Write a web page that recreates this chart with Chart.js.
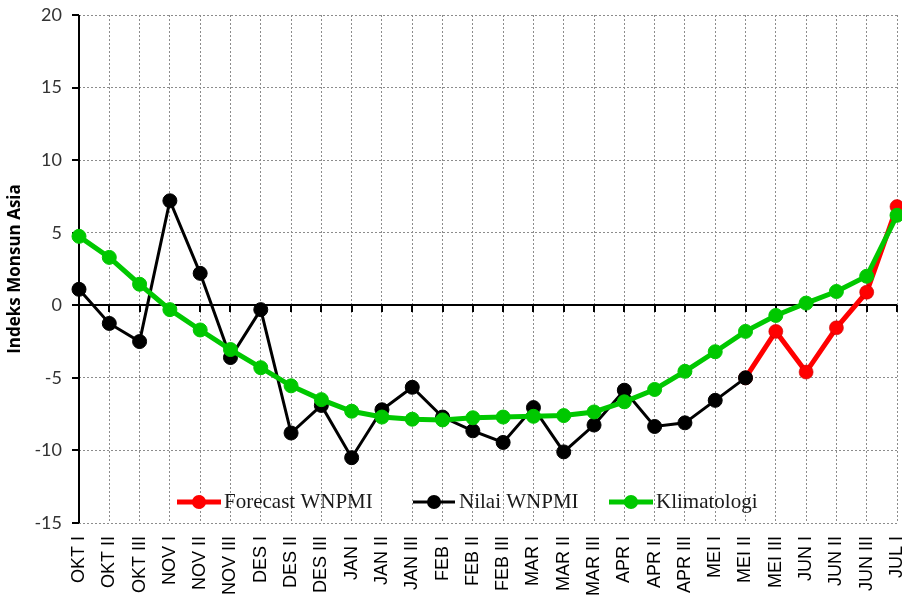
<!DOCTYPE html>
<html>
<head>
<meta charset="utf-8">
<script src="https://cdn.jsdelivr.net/npm/chart.js@4/dist/chart.umd.min.js"></script>
<style>
  html, body { margin: 0; padding: 0; background: #fff; }
  #wrap { width: 902px; height: 606px; }
</style>
</head>
<body>
<div id="wrap"><canvas id="c" width="902" height="606"></canvas></div>
<script>
// Dasarian periods, October to July
const categories = [
  'OKT I', 'OKT II', 'OKT III', 'NOV I', 'NOV II', 'NOV III',
  'DES I', 'DES II', 'DES III', 'JAN I', 'JAN II', 'JAN III',
  'FEB I', 'FEB II', 'FEB III', 'MAR I', 'MAR II', 'MAR III',
  'APR I', 'APR II', 'APR III', 'MEI I', 'MEI II', 'MEI III',
  'JUN I', 'JUN II', 'JUN III', 'JUL I'
];

// Forecast WNPMI (starts from the last observed value)
const forecastWNPMI = [
  null, null, null, null, null, null, null, null, null, null, null,
  null, null, null, null, null, null, null, null, null, null, null,
  -5.0, -1.8, -4.6, -1.55, 0.9, 6.8
];

// Observed WNPMI
const nilaiWNPMI = [
  1.1, -1.25, -2.5, 7.2, 2.2, -3.6, -0.3, -8.8, -6.9, -10.5, -7.2,
  -5.65, -7.7, -8.65, -9.45, -7.05, -10.1, -8.25, -5.85, -8.35, -8.1,
  -6.55, -5.0, null, null, null, null, null
];

// Climatology
const klimatologi = [
  4.75, 3.3, 1.45, -0.3, -1.7, -3.05, -4.3, -5.55, -6.5, -7.3, -7.7,
  -7.85, -7.9, -7.75, -7.7, -7.65, -7.6, -7.35, -6.65, -5.8, -4.55,
  -3.2, -1.8, -0.7, 0.15, 0.95, 2.0, 6.2
];

const yTickValues = [-15, -10, -5, 0, 5, 10, 15, 20];

const RED = '#ff0000';
const BLACK = '#000000';
const GREEN = '#00c800';
const GRID = '#8c8c8c';

// Solid axis at zero and on the left, with outside tick marks
const axesPlugin = {
  id: 'axesPlugin',
  beforeDatasetsDraw(chart) {
    const { ctx, chartArea, scales } = chart;
    const xs = scales.x, ys = scales.y;
    const y0 = Math.round(ys.getPixelForValue(0));
    ctx.save();
    ctx.strokeStyle = '#000';
    ctx.lineWidth = 2;
    ctx.beginPath();
    ctx.moveTo(chartArea.left, y0);
    ctx.lineTo(chartArea.right, y0);
    for (let i = 0; i < categories.length; i++) {
      const px = Math.round(xs.getPixelForValue(i));
      ctx.moveTo(px, y0);
      ctx.lineTo(px, y0 + 7);
    }
    ctx.moveTo(chartArea.left, chartArea.top);
    ctx.lineTo(chartArea.left, chartArea.bottom);
    yTickValues.forEach(v => {
      const py = Math.round(ys.getPixelForValue(v));
      ctx.moveTo(chartArea.left - 7, py);
      ctx.lineTo(chartArea.left, py);
    });
    ctx.stroke();
    ctx.restore();
  }
};

// Legend drawn inside the plot, near the bottom
const innerLegend = {
  id: 'innerLegend',
  afterDatasetsDraw(chart) {
    const { ctx } = chart;
    const y = 502;
    const slots = [
      { x0: 177, x1: 221, tx: 224 },
      { x0: 413, x1: 455, tx: 459 },
      { x0: 609, x1: 653, tx: 656 }
    ];
    ctx.save();
    ctx.font = '21px "Liberation Serif"';
    ctx.textBaseline = 'alphabetic';
    chart.data.datasets.forEach((ds, i) => {
      const s = slots[i];
      ctx.strokeStyle = ds.borderColor;
      ctx.lineWidth = ds.borderWidth;
      ctx.beginPath();
      ctx.moveTo(s.x0, y);
      ctx.lineTo(s.x1, y);
      ctx.stroke();
      ctx.fillStyle = ds.pointBackgroundColor;
      ctx.beginPath();
      ctx.arc((s.x0 + s.x1) / 2, y, ds.pointRadius, 0, Math.PI * 2);
      ctx.fill();
      ctx.fillStyle = '#1a1a1a';
      ctx.fillText(ds.label, s.tx, y + 6);
    });
    ctx.restore();
  }
};

new Chart(document.getElementById('c'), {
  type: 'line',
  data: {
    labels: categories,
    datasets: [
      {
        label: 'Forecast WNPMI',
        data: forecastWNPMI,
        borderColor: RED,
        backgroundColor: RED,
        pointBackgroundColor: RED,
        pointBorderColor: 'rgba(200,0,0,0.6)',
        pointBorderWidth: 1,
        borderWidth: 5,
        pointRadius: 7,
        tension: 0,
        order: 2
      },
      {
        label: 'Nilai WNPMI',
        data: nilaiWNPMI,
        borderColor: BLACK,
        backgroundColor: BLACK,
        pointBackgroundColor: BLACK,
        pointBorderColor: BLACK,
        pointBorderWidth: 1,
        borderWidth: 3,
        pointRadius: 7,
        tension: 0,
        order: 1
      },
      {
        label: 'Klimatologi',
        data: klimatologi,
        borderColor: GREEN,
        backgroundColor: GREEN,
        pointBackgroundColor: GREEN,
        pointBorderColor: GREEN,
        pointBorderWidth: 1,
        borderWidth: 5,
        pointRadius: 7,
        tension: 0,
        order: 0
      }
    ]
  },
  options: {
    responsive: false,
    animation: false,
    layout: { autoPadding: false, padding: { top: 15, right: 5, left: 0, bottom: 0 } },
    plugins: {
      legend: { display: false },
      tooltip: { enabled: false }
    },
    scales: {
      x: {
        type: 'category',
        offset: false,
        border: { display: false, dash: [2, 2] },
        grid: {
          color: GRID,
          lineWidth: 1,
          drawTicks: false
        },
        ticks: {
          autoSkip: false,
          maxRotation: 90,
          minRotation: 90,
          padding: 13,
          color: '#000',
          font: { family: 'Liberation Sans', size: 18 }
        },
        afterFit(scale) {
          scale.height = 83;
          scale.paddingLeft = 0;
          scale.paddingRight = 0;
        }
      },
      y: {
        min: -15,
        max: 20,
        border: { display: false, dash: [2, 2] },
        grid: {
          color: GRID,
          lineWidth: 1,
          drawTicks: false
        },
        afterBuildTicks(scale) {
          scale.ticks = yTickValues.map(v => ({ value: v }));
        },
        ticks: {
          padding: 17,
          color: '#333',
          font: { family: 'Lato', size: 18 }
        },
        title: {
          display: true,
          text: 'Indeks Monsun Asia',
          color: '#000',
          font: { family: 'Open Sans', size: 17, weight: 'bold' },
          padding: { top: 5, bottom: 0 }
        },
        afterFit(scale) {
          scale.width = 79;
          scale.paddingTop = 0;
          scale.paddingBottom = 0;
        }
      }
    }
  },
  plugins: [axesPlugin, innerLegend]
});
</script>
</body>
</html>
